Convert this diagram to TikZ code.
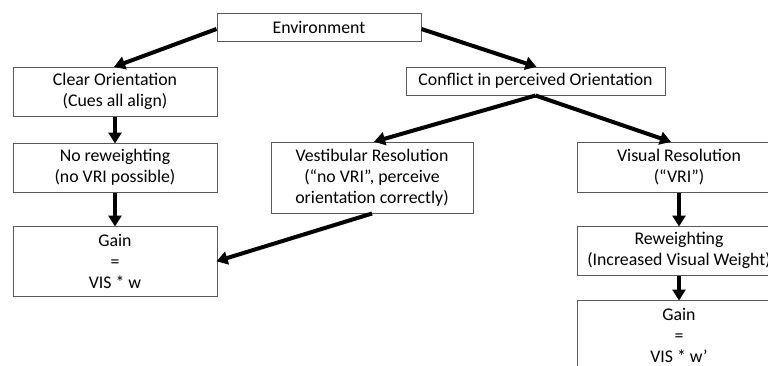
\documentclass[tikz,border=0pt]{standalone}
\usepackage{fontspec}
\setmainfont{Carlito}
\usetikzlibrary{arrows.meta}
\begin{document}
\begin{tikzpicture}[x=1pt,y=-1pt,
  box/.style={draw=black!65, line width=1pt, fill=white, align=center, inner sep=0pt,
    font=\fontsize{17.8}{21}\selectfont},
  flow/.style={line width=4pt, -{Triangle[length=11pt,width=13pt]}, shorten >=-1pt}
]
\useasboundingbox (0,0) rectangle (768,365);
\clip (0,0) rectangle (768,365);
\node[box, minimum width=204pt, minimum height=28pt] (env) at (319,27) {Environment};
\node[box, minimum width=204pt, minimum height=49pt] (clear) at (115,91.5) {Clear Orientation\\(Cues all align)};
\node[box, minimum width=204pt, minimum height=49pt] (norew) at (115,167.5) {No reweighting\\(no VRI possible)};
\node[box, minimum width=204pt, minimum height=70pt] (gainl) at (115,261) {Gain\\=\\VIS * w};
\node[box, minimum width=259pt, minimum height=28pt] (conf) at (535.5,81) {Conflict in perceived Orientation};
\node[box, minimum width=202pt, minimum height=71pt] (vest) at (372,177.5) {Vestibular Resolution\\(“no VRI”, perceive\\orientation correctly)};
\node[box, minimum width=204pt, minimum height=50pt] (vis) at (679,167) {Visual Resolution\\(“VRI”)};
\node[box, minimum width=204pt, minimum height=49pt] (rew) at (679,250.5) {Reweighting\\(Increased Visual Weight)};
\node[box, minimum width=204pt, minimum height=70pt] (gainr) at (679,335) {Gain\\=\\VIS * w’};
\coordinate (visin) at ([xshift=-9pt]vis.north);
\draw[flow] ([yshift=-2pt]env.west) -- (clear.north);
\draw[flow] ([yshift=-2pt]env.east) -- (conf.north);
\draw[flow] (clear.south) -- (norew.north);
\draw[flow] (norew.south) -- (gainl.north);
\draw[flow] (conf.south) -- ([xshift=3pt]vest.north);
\draw[flow] (conf.south) -- (visin);
\draw[flow] (vest.south) -- (gainl.east);
\draw[flow] (vis.south) -- (rew.north);
\draw[flow] (rew.south) -- (gainr.north);
\end{tikzpicture}
\end{document}
